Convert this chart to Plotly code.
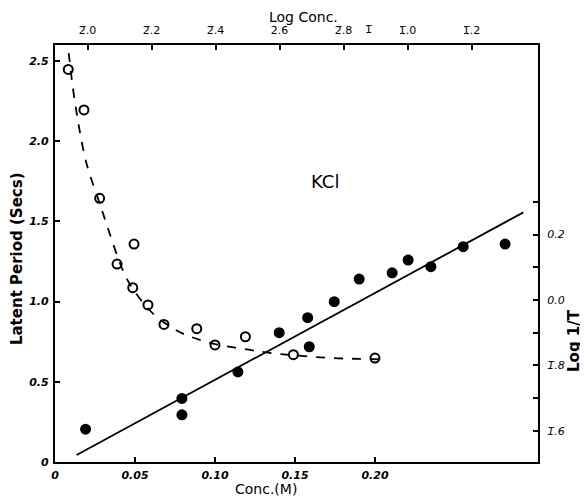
import plotly.graph_objects as go

# ---- data ----
# open circles: latent period (s) vs concentration (M)
open_conc = [0.0083, 0.0181, 0.0279, 0.0388, 0.0486, 0.0494, 0.0581, 0.0681, 0.0886, 0.100, 0.119, 0.149, 0.200]
open_lat = [2.448, 2.195, 1.644, 1.234, 1.087, 1.359, 0.979, 0.858, 0.831, 0.73, 0.781, 0.669, 0.648]

# dashed fitted curve (latent period)
curve_conc = [0.0085, 0.0092, 0.0108, 0.013, 0.015, 0.0172, 0.020, 0.0235, 0.027, 0.030, 0.033, 0.037,
              0.041, 0.045, 0.050, 0.057, 0.063, 0.071, 0.080, 0.088, 0.100, 0.121, 0.134, 0.150, 0.173, 0.208]
curve_lat = [2.55, 2.50, 2.36, 2.21, 2.09, 1.97, 1.85, 1.74, 1.64, 1.55, 1.46, 1.34,
             1.23, 1.14, 1.06, 0.97, 0.91, 0.85, 0.80, 0.77, 0.735, 0.70, 0.68, 0.665, 0.648, 0.640]

# filled circles: log(1/T) vs log concentration
filled_logc = [-2.006, -1.705, -1.705, -1.530, -1.401, -1.312, -1.307, -1.229, -1.151, -1.048, -0.998, -0.927, -0.826, -0.695]
filled_log1T = [-0.395, -0.301, -0.351, -0.220, -0.100, -0.054, -0.143, -0.005, 0.064, 0.083, 0.122, 0.102, 0.163, 0.171]

# straight fitted line (log 1/T vs log conc)
line_logc = [-2.034, -0.638]
line_log1T = [-0.474, 0.268]

# tick labels
x_ticks = [0, 0.05, 0.10, 0.15, 0.20]
x_ticktext = ["0", "0.05", "0.10", "0.15", "0.20"]
y_ticks = [0, 0.5, 1.0, 1.5, 2.0, 2.5]
y_ticktext = ["0", "0.5", "1.0", "1.5", "2.0", "2.5"]
top_ticks = [-2.0, -1.8, -1.6, -1.4, -1.2, -1.0, -0.8]
top_ticktext = ["2\u0305.0", "2\u0305.2", "2\u0305.4", "2.6", "2\u0305.8", "1\u0305.0", "1\u0305.2"]
right_ticks = [-0.4, -0.3, -0.2, -0.1, 0.0, 0.1, 0.2, 0.3]
right_ticktext = ["1\u0305.6", "", "1\u0305.8", "", "0.0", "", "0.2", ""]

fig = go.Figure()

fig.add_trace(go.Scatter(x=curve_conc, y=curve_lat, mode="lines",
                         line=dict(color="black", width=1.8, dash="dash", shape="spline"),
                         xaxis="x", yaxis="y", hoverinfo="skip"))
fig.add_trace(go.Scatter(x=open_conc, y=open_lat, mode="markers",
                         marker=dict(symbol="circle-open", size=9, color="black", line=dict(width=2)),
                         xaxis="x", yaxis="y"))
fig.add_trace(go.Scatter(x=line_logc, y=line_log1T, mode="lines",
                         line=dict(color="black", width=1.8),
                         xaxis="x2", yaxis="y2", hoverinfo="skip"))
fig.add_trace(go.Scatter(x=filled_logc, y=filled_log1T, mode="markers",
                         marker=dict(symbol="circle", size=11, color="black"),
                         xaxis="x2", yaxis="y2"))

tickfont_bi = dict(family="DejaVu Sans", size=11, color="black", weight="bold", style="italic")
tickfont_r = dict(family="DejaVu Sans", size=11, color="black", style="italic")
common = dict(ticks="inside", ticklen=5, tickwidth=1.5, tickcolor="black", showline=True,
              linewidth=2.2, linecolor="black", showgrid=False, zeroline=False, automargin=False)

# the page body adds an 8 px offset, so the figure is sized/margined to compensate
fig.update_layout(
    template="none",
    width=580, height=489,
    margin=dict(l=47, r=50, t=37, b=35, pad=0),
    paper_bgcolor="white", plot_bgcolor="white",
    showlegend=False,
    xaxis=dict(range=[0, 0.3019], tickvals=x_ticks, ticktext=x_ticktext, tickfont=tickfont_bi,
               ticklabelstandoff=2, **common),
    yaxis=dict(range=[0, 2.60], tickvals=y_ticks, ticktext=y_ticktext, tickfont=tickfont_bi,
               ticklabelstandoff=2, **common),
    xaxis2=dict(range=[-2.1016, -0.5922], overlaying="x", side="top", tickvals=top_ticks,
                ticktext=top_ticktext, tickfont=dict(family="DejaVu Sans", size=11, color="black"),
                ticklabelstandoff=5, **common),
    yaxis2=dict(range=[-0.4954, 0.7798], overlaying="y", side="right", tickvals=right_ticks,
                ticktext=right_ticktext, tickfont=tickfont_r, ticklabelstandoff=5, **common),
)

center = dict(xanchor="center", yanchor="middle", showarrow=False)
fig.add_annotation(text="Conc.(M)", xref="paper", yref="paper", x=0.437, y=-0.0636,
                   font=dict(family="DejaVu Sans", size=14, color="black"), **center)
fig.add_annotation(text="Log Conc.", xref="paper", yref="paper", x=0.5155, y=1.067,
                   font=dict(family="DejaVu Sans", size=14, color="black"), **center)
fig.add_annotation(text="<b>Latent Period (Secs)</b>", xref="paper", yref="paper", x=-0.0787, y=0.489,
                   textangle=-90, font=dict(family="DejaVu Sans", size=15, color="black"), **center)
fig.add_annotation(text="<b>Log 1/T</b>", xref="paper", yref="paper", x=1.0745, y=0.2926,
                   textangle=-90, font=dict(family="DejaVu Sans", size=15, color="black"), **center)
fig.add_annotation(text="1\u0305", xref="x2", yref="paper", x=-1.12, y=1.038,
                   font=dict(family="DejaVu Sans", size=11, color="black"), **center)
fig.add_annotation(text="KCl", xref="x", yref="y", x=0.169, y=1.747,
                   font=dict(family="DejaVu Sans", size=18, color="black"), **center)

fig.write_html("out.html")
